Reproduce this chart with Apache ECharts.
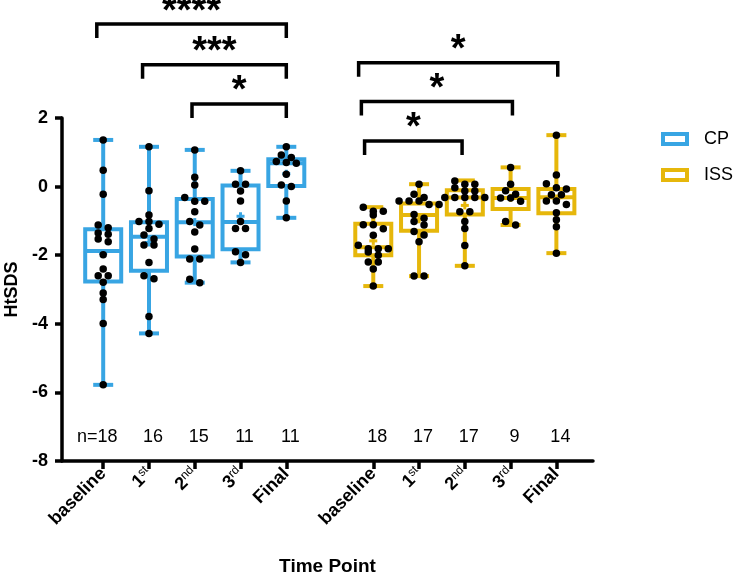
<!DOCTYPE html>
<html>
<head>
<meta charset="utf-8">
<script src="https://cdn.jsdelivr.net/npm/echarts@6/dist/echarts.min.js"></script>
<style>
html, body { margin: 0; padding: 0; background: #fff; }
#main { width: 739px; height: 579px; }
</style>
</head>
<body>
<div id="main"></div>
<script>
// time points on the x axis
var timePoints = ['baseline', '1st', '2nd', '3rd', 'Final'];
var groupNames = ['CP', 'ISS'];

// individual HtSDS values per time point
var cpValues = [
    [1.36, 0.48, -0.22, -1.12, -1.2, -1.35, -1.39, -1.53, -1.61, -1.99, -2.4, -2.6, -2.6, -2.79, -3.1, -3.29, -3.99, -5.78],
    [1.16, -0.12, -0.83, -1.02, -1.02, -1.1, -1.22, -1.41, -1.53, -1.7, -1.7, -2.21, -2.6, -2.69, -3.79, -4.28],
    [1.07, 0.27, 0.05, -0.32, -0.43, -0.43, -0.73, -1.02, -1.12, -1.32, -1.82, -2.11, -2.11, -2.7, -2.8],
    [0.46, 0.07, 0.07, -0.13, -0.42, -1.02, -1.22, -1.22, -1.9, -1.99, -2.21],
    [1.16, 0.92, 0.85, 0.73, 0.7, 0.68, 0.36, 0.05, 0.0, -0.42, -0.91]
];
var issValues = [
    [-0.6, -0.72, -0.72, -0.83, -1.11, -1.11, -1.23, -1.42, -1.71, -1.81, -1.81, -1.81, -1.91, -2.0, -2.2, -2.2, -2.4, -2.9],
    [0.07, -0.22, -0.32, -0.42, -0.42, -0.42, -0.52, -0.52, -0.81, -0.92, -1.02, -1.12, -1.31, -1.41, -1.61, -2.61, -2.61],
    [0.16, 0.07, 0.07, -0.03, -0.13, -0.13, -0.32, -0.32, -0.32, -0.32, -0.32, -0.73, -0.73, -1.02, -1.22, -1.72, -2.31],
    [0.56, 0.07, -0.12, -0.22, -0.33, -0.33, -0.43, -1.02, -1.12],
    [1.5, 0.34, 0.08, -0.03, -0.07, -0.24, -0.24, -0.42, -0.42, -0.52, -0.76, -0.97, -1.17, -1.94]
];

// box statistics [min, Q1, median, Q3, max]
var cpBoxes = [
    [-5.78, -2.77, -1.88, -1.24, 1.36],
    [-4.28, -2.45, -1.46, -1.04, 1.16],
    [-2.8, -2.04, -1.04, -0.36, 1.07],
    [-2.21, -1.83, -1.03, 0.03, 0.46],
    [-0.91, 0.02, 0.68, 0.8, 1.16]
];
var issBoxes = [
    [-2.9, -2.0, -1.77, -1.08, -0.6],
    [-2.61, -1.29, -0.83, -0.49, 0.07],
    [-2.31, -0.81, -0.32, -0.11, 0.18],
    [-1.12, -0.65, -0.33, -0.07, 0.56],
    [-1.94, -0.78, -0.31, -0.07, 1.5]
];

// sample sizes
var cpCounts = [18, 16, 15, 11, 11];
var issCounts = [18, 17, 17, 9, 14];

// significance brackets [from, to, level] and their labels
var brackets = [
    [-0.14, 4.0, 4.74],
    [0.86, 4.0, 3.55],
    [1.94, 4.0, 2.41],
    [5.58, 9.93, 3.61],
    [5.64, 8.94, 2.48],
    [5.71, 7.84, 1.33]
];
var bracketLabels = ['****', '***', '*', '*', '*', '*'];

/* layout */
var issOffset = 5.9;
var countLevel = -7.3;
var blue = '#38a5e3';
var gold = '#e6b70b';
var font = '"Liberation Sans", Arial, Helvetica, sans-serif';

var cpPos = timePoints.map(function (t, i) { return i; });
var issPos = timePoints.map(function (t, i) { return i + issOffset; });
var allPos = cpPos.concat(issPos);

function labelFor(value) {
    for (var i = 0; i < allPos.length; i++) {
        if (Math.abs(allPos[i] - value) < 1e-6) {
            var t = timePoints[i % timePoints.length];
            if (t === 'baseline' || t === 'Final') return '{b|' + t + '}';
            return '{b|' + t.charAt(0) + '}{s|' + t.slice(1) + '}';
        }
    }
    return '';
}

function boxItems(boxes, values, positions) {
    return boxes.map(function (b, i) {
        var sum = 0;
        values[i].forEach(function (v) { sum += v; });
        return [positions[i], b[0], b[1], b[2], b[3], b[4], sum / values[i].length];
    });
}

function renderBox(color) {
    return function (params, api) {
        var x = api.value(0);
        var pMin = api.coord([x, api.value(1)]);
        var pQ1 = api.coord([x, api.value(2)]);
        var pMed = api.coord([x, api.value(3)]);
        var pQ3 = api.coord([x, api.value(4)]);
        var pMax = api.coord([x, api.value(5)]);
        var pMean = api.coord([x, api.value(6)]);
        var cx = pMin[0], hw = 18, cw = 10;
        var st = { stroke: color, lineWidth: 4 };
        return {
            type: 'group',
            children: [
                { type: 'line', shape: { x1: cx, y1: pMax[1], x2: cx, y2: pQ3[1] }, style: st },
                { type: 'line', shape: { x1: cx, y1: pQ1[1], x2: cx, y2: pMin[1] }, style: st },
                { type: 'line', shape: { x1: cx - cw, y1: pMax[1], x2: cx + cw, y2: pMax[1] }, style: st },
                { type: 'line', shape: { x1: cx - cw, y1: pMin[1], x2: cx + cw, y2: pMin[1] }, style: st },
                { type: 'rect', shape: { x: cx - hw, y: pQ3[1], width: hw * 2, height: pQ1[1] - pQ3[1] },
                  style: { stroke: color, lineWidth: 4, fill: '#fff' } },
                { type: 'line', shape: { x1: cx - hw, y1: pMed[1], x2: cx + hw, y2: pMed[1] }, style: st },
                { type: 'line', shape: { x1: cx - 4, y1: pMean[1], x2: cx + 4, y2: pMean[1] }, style: { stroke: color, lineWidth: 3 } },
                { type: 'line', shape: { x1: cx, y1: pMean[1] - 4, x2: cx, y2: pMean[1] + 4 }, style: { stroke: color, lineWidth: 3 } }
            ]
        };
    };
}

function renderBracket(params, api) {
    var p1 = api.coord([api.value(0), api.value(1)]);
    var p2 = api.coord([api.value(2), api.value(1)]);
    var leg = 14;
    return {
        type: 'group',
        children: [
            { type: 'polyline',
              shape: { points: [[p1[0], p1[1] + leg], [p1[0], p1[1]], [p2[0], p2[1]], [p2[0], p2[1] + leg]] },
              style: { stroke: '#000', lineWidth: 3.5, fill: 'none' } },
            { type: 'text', x: (p1[0] + p2[0]) / 2, y: p1[1] - 12,
              style: { text: bracketLabels[params.dataIndex], font: 'bold 38px ' + font,
                       align: 'center', verticalAlign: 'middle', fill: '#000' } }
        ]
    };
}

function renderCount(params, api) {
    var p = api.coord([api.value(0), api.value(1)]);
    var i = params.dataIndex;
    var n = api.value(2);
    var txt = i === 0 ? 'n=' + n : String(n);
    return {
        type: 'text', x: p[0] + (i === 0 ? -6 : 4), y: p[1],
        style: { text: txt, font: '18px ' + font, align: 'center', verticalAlign: 'middle', fill: '#000' }
    };
}

var countData = cpCounts.map(function (n, i) { return [cpPos[i], countLevel, n]; })
    .concat(issCounts.map(function (n, i) { return [issPos[i], countLevel, n]; }));

var mdChart = echarts.init(document.getElementById('main'));

var option = {
    animation: false,
    backgroundColor: '#fff',
    textStyle: { fontFamily: font },
    grid: { left: 62, right: 146, top: 118, bottom: 118, outerBoundsMode: 'none' },
    legend: {
        orient: 'vertical',
        left: 656,
        top: 125,
        itemWidth: 24,
        itemHeight: 10,
        itemGap: 18,
        textStyle: { fontSize: 18, color: '#000', fontFamily: font, padding: [0, 0, 0, 12] },
        data: [
            { name: 'CP', icon: 'rect', itemStyle: { color: '#fff', borderColor: blue, borderWidth: 4 } },
            { name: 'ISS', icon: 'rect', itemStyle: { color: '#fff', borderColor: gold, borderWidth: 4 } }
        ]
    },
    xAxis: {
        type: 'value',
        min: -0.9,
        max: 10.7,
        name: 'Time Point',
        nameLocation: 'middle',
        nameGap: 96,
        nameTextStyle: { fontSize: 19, fontWeight: 'bold', color: '#000', fontFamily: font },
        splitLine: { show: false },
        axisLine: { onZero: false, lineStyle: { color: '#000', width: 3.5 } },
        axisTick: { customValues: allPos, length: 8, lineStyle: { color: '#000', width: 3.5 } },
        axisLabel: {
            customValues: allPos,
            rotate: 45,
            margin: 10,
            formatter: labelFor,
            rich: {
                b: { fontSize: 18, fontWeight: 'bold', color: '#000', fontFamily: font },
                s: { fontSize: 12, color: '#000', fontFamily: font, verticalAlign: 'top', padding: [0, 0, 8, 0] }
            }
        }
    },
    yAxis: {
        type: 'value',
        min: -8,
        max: 2,
        interval: 2,
        name: 'HtSDS',
        nameLocation: 'middle',
        nameGap: 40,
        nameTextStyle: { fontSize: 18, fontWeight: 'bold', color: '#000', fontFamily: font },
        splitLine: { show: false },
        axisLine: { show: true, onZero: false, lineStyle: { color: '#000', width: 3.5 } },
        axisTick: { show: true, length: 7, lineStyle: { color: '#000', width: 3.5 } },
        axisLabel: { fontSize: 18, fontWeight: 'bold', color: '#000', margin: 14, fontFamily: font }
    },
    series: [
        { id: 'cpBox', name: 'CP', type: 'custom', z: 2, clip: false, itemStyle: { color: blue },
          renderItem: renderBox(blue), data: boxItems(cpBoxes, cpValues, cpPos) },
        { id: 'issBox', name: 'ISS', type: 'custom', z: 2, clip: false, itemStyle: { color: gold },
          renderItem: renderBox(gold), data: boxItems(issBoxes, issValues, issPos) },
        { id: 'brackets', type: 'custom', z: 4, clip: false, silent: true, renderItem: renderBracket,
          data: brackets.map(function (b) { return [b[0], b[2], b[1]]; }) },
        { id: 'counts', type: 'custom', z: 4, clip: false, silent: true, renderItem: renderCount,
          data: countData }
    ]
};
mdChart.setOption(option);

/* beeswarm layout for the dots, computed in pixels from the axis scale */
var p0 = mdChart.convertToPixel({ gridIndex: 0 }, [0, 0]);
var p1 = mdChart.convertToPixel({ gridIndex: 0 }, [1, 1]);
var pxX = p1[0] - p0[0];
var pxY = p0[1] - p1[1];

function swarm(values, xCenter) {
    var sorted = values.slice().sort(function (a, b) { return b - a; });
    var rows = [];
    sorted.forEach(function (v) {
        var r = rows[rows.length - 1];
        if (r && (r[0] - v) * pxY < 6) r.push(v);
        else rows.push([v]);
    });
    var pts = [];
    rows.forEach(function (r) {
        r.forEach(function (v, i) {
            pts.push([xCenter + (i - (r.length - 1) / 2) * 10 / pxX, v]);
        });
    });
    return pts;
}

var dots = [];
cpValues.forEach(function (vals, i) { dots = dots.concat(swarm(vals, cpPos[i])); });
issValues.forEach(function (vals, i) { dots = dots.concat(swarm(vals, issPos[i])); });

mdChart.setOption({
    series: [
        { id: 'dots', type: 'scatter', z: 3, symbolSize: 7.5, itemStyle: { color: '#000', opacity: 1 },
          silent: true, data: dots }
    ]
});

window.addEventListener('resize', function () {
    mdChart.resize();
});
</script>
</body>
</html>
